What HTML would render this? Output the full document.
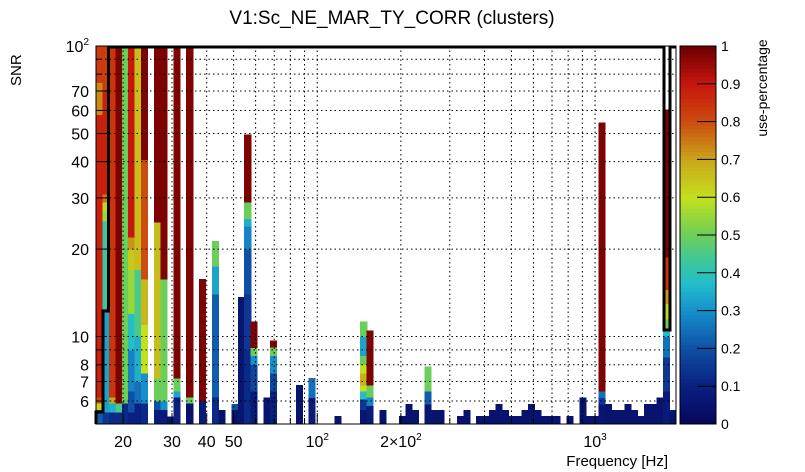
<!DOCTYPE html>
<html><head><meta charset="utf-8"><style>
body{margin:0;background:#fff;}
svg{display:block;font-family:"Liberation Sans",sans-serif;}
#cells rect,#cbar rect{shape-rendering:crispEdges;}
</style></head><body>
<svg id="chart" width="805" height="472">
<text x="392" y="24" text-anchor="middle" font-size="19">V1:Sc_NE_MAR_TY_CORR (clusters)</text>
<text transform="translate(21,86) rotate(-90)" font-size="15">SNR</text>
<text x="668" y="466" text-anchor="end" font-size="15">Frequency [Hz]</text>
<text transform="translate(767,88) rotate(-90)" text-anchor="middle" font-size="14">use-percentage</text>
<g id="cells"></g>
<g id="grid"></g>
<g id="axes"></g>
<g id="cbar"></g>
<path d="M96,424 V412 H103 V311 H108.5 V47 H664 V330 H670 V47 H676" fill="none" stroke="#000" stroke-width="3"/>
</svg>
<script>
const xTicks=[20,30,40,50,100,200,1000];
const xTickLabels=["20","30","40","50","10<tspan dy='-7' font-size='10'>2</tspan>","2×10<tspan dy='-7' font-size='10'>2</tspan>","10<tspan dy='-7' font-size='10'>3</tspan>"];
const yTicks=[6,7,8,10,20,30,40,50,60,70,100];
const yTickLabels=["6","7","8","10","20","30","40","50","60","70","10<tspan dy='-7' font-size='10'>2</tspan>"];
const cbTicks=[0,0.1,0.2,0.3,0.4,0.5,0.6,0.7,0.8,0.9,1];
const colBins=[0,1,2,3,4,5,6,7,9,10,11,12,14,16,18,19,21,22,23,24,26,27,31,33,37,41,42,44,47,48,49,51,52,53,56,57,59,60,61,62,63,64,65,66,67,68,69,70,71,73,75,76,77,78,79,80,81,82,83,84,85,86,87,88,89];
const colSegs=[
[[5,5.6,0.22],[5.6,5.9,0.62],[5.9,6.2,0.8],[6.2,58,0.88],[58,75,0.73],[75,100,0.83]],
[[5,5.5,0.15],[5.5,12.5,0.33],[12.5,25,0.42],[25,27,0.55],[27,29,0.62],[29,31,0.75],[31,70,0.88],[70,100,0.83]],
[[5,5.5,0.12],[5.5,5.9,0.35],[5.9,6.2,0.7],[6.2,100,0.84]],
[[5,5.5,0.12],[5.5,5.9,0.45],[5.9,100,0.98]],
[[5,5.9,0.12],[5.9,100,0.5]],
[[5,5.5,0.1],[5.5,6.5,0.2],[6.5,9,0.28],[9,12,0.38],[12,17,0.55],[17,20,0.64],[20,22,0.72],[22,100,0.9]],
[[5,5.9,0.1],[5.9,7,0.25],[7,10,0.35],[10,17,0.45],[17,100,0.66]],
[[5,5.9,0.12],[5.9,7.5,0.3],[7.5,11,0.6],[11,15.8,0.67],[15.8,40.7,0.8],[40.7,100,0.98]],
[[5,5.6,0.08],[5.6,6.0,0.2],[6.0,7.2,0.5],[7.2,24.8,0.66],[24.8,100,0.98]],
[[5,5.6,0.08],[5.6,6.0,0.3],[6.0,15.8,0.5],[15.8,100,0.98]],
[[5,5.3,0.05]],
[[5,6.2,0.1],[6.2,6.5,0.33],[6.5,7.2,0.5],[7.2,100,0.98]],
[[5,5.9,0.05],[5.9,6.2,0.5],[6.2,100,0.98]],
[[5,6.0,0.08],[6.0,15.8,0.98]],
[[5,6.2,0.12],[6.2,14,0.22],[14,17.5,0.33],[17.5,21.3,0.5]],
[[5,5.58,0.05]],
[[5,5.6,0.05],[5.6,5.86,0.2]],
[[5,13.7,0.06]],
[[5,9,0.12],[9,14,0.15],[14,20,0.2],[20,24,0.28],[24,25.5,0.35],[25.5,29,0.5],[29,49.6,0.98]],
[[5,6.5,0.08],[6.5,8,0.18],[8,8.6,0.3],[8.6,9.16,0.5],[9.16,11.25,0.98]],
[[5,6.17,0.05]],
[[5,6.5,0.1],[6.5,7.5,0.18],[7.5,8.6,0.3],[8.6,9.2,0.5],[9.2,9.7,0.98]],
[[5,6.8,0.05]],
[[5,6.17,0.08],[6.17,7.2,0.25]],
[[5,5.32,0.05]],
[[5,5.6,0.06],[5.6,6.1,0.15],[6.1,6.5,0.38],[6.5,6.8,0.6],[6.8,7.5,0.68],[7.5,8,0.6],[8,8.6,0.5],[8.6,10,0.33],[10,11.25,0.5]],
[[5,5.8,0.08],[5.8,6.2,0.28],[6.2,6.8,0.5],[6.8,10.5,0.98]],
[[5,5.58,0.05]],[[5,5.32,0.05]],[[5,5.86,0.05]],[[5,5.58,0.05]],
[[5,5.86,0.06],[5.86,6.5,0.22],[6.5,7.9,0.5]],
[[5,5.58,0.05]],[[5,5.58,0.05]],
[[5,5.32,0.05]],[[5,5.58,0.05]],[[5,5.32,0.05]],[[5,5.32,0.05]],[[5,5.58,0.05]],[[5,5.86,0.05]],[[5,5.58,0.05]],[[5,5.32,0.05]],[[5,5.32,0.05]],[[5,5.58,0.05]],[[5,5.86,0.05]],[[5,5.58,0.05]],[[5,5.32,0.05]],[[5,5.32,0.05]],[[5,5.32,0.05]],[[5,5.32,0.05]],[[5,6.17,0.05]],[[5,5.32,0.05]],[[5,5.32,0.05]],
[[5,5.86,0.06],[5.86,6.17,0.15],[6.17,6.5,0.25],[6.5,54.5,0.98]],
[[5,5.86,0.05]],[[5,5.58,0.05]],[[5,5.58,0.05]],[[5,5.86,0.05]],[[5,5.58,0.05]],[[5,5.32,0.05]],[[5,5.86,0.05]],[[5,5.86,0.05]],[[5,6.17,0.05]],
[[5,6.5,0.08],[6.5,8.5,0.15],[8.5,10,0.25],[10,10.6,0.37],[10.6,11.5,0.5],[11.5,13,0.62],[13,14.5,0.72],[14.5,18.8,0.85],[18.8,60.4,0.98]],
[[5,5.58,0.05]]
];
const NS="http://www.w3.org/2000/svg";
const X0=96,X1=676,Y0=46,Y1=424,NB=90,FMIN=15.98,FMAX=1956,SMIN=5,SMAX=100;
const xs=f=>X0+(Math.log10(f)-Math.log10(FMIN))/(Math.log10(FMAX)-Math.log10(FMIN))*(X1-X0);
const ys=s=>Y1-(Math.log10(s)-Math.log10(SMIN))/(Math.log10(SMAX)-Math.log10(SMIN))*(Y1-Y0);
const binX=i=>X0+i*(X1-X0)/NB;
const stops=[[0,[6,6,90]],[0.1,[10,31,128]],[0.2,[15,79,165]],[0.3,[22,144,204]],[0.37,[34,188,204]],[0.43,[60,199,156]],[0.5,[108,206,90]],[0.6,[196,224,28]],[0.7,[201,165,26]],[0.8,[204,75,14]],[0.9,[200,21,14]],[1,[107,0,0]]];
function col(v){for(let i=1;i<stops.length;i++){if(v<=stops[i][0]){const a=stops[i-1],b=stops[i],t=(v-a[0])/(b[0]-a[0]);return `rgb(${a[1].map((c,k)=>Math.round(c+(b[1][k]-c)*t)).join(',')})`;}}return 'rgb(107,0,0)';}
function mk(tag,attrs,parent){const e=document.createElementNS(NS,tag);for(const k in attrs)e.setAttribute(k,attrs[k]);parent.appendChild(e);return e;}
const cells=document.getElementById('cells');
colBins.forEach((b,ci)=>{colSegs[ci].forEach(s=>{
 const r=mk('rect',{x:binX(b),width:(X1-X0)/NB+0.6,y:ys(s[1]),height:ys(s[0])-ys(s[1])+0.5,fill:col(s[2])},cells);
 
 
});});
const grid=document.getElementById('grid');
const xg=[20,30,40,50,60,70,80,90,100,200,300,400,500,600,700,800,900,1000];
const yg=[6,7,8,9,10,20,30,40,50,60,70,80,90];
xg.forEach(f=>mk('line',{x1:xs(f),x2:xs(f),y1:Y0,y2:Y1,stroke:'#000','stroke-dasharray':'1.5,3'},grid));
yg.forEach(s=>mk('line',{x1:X0,x2:X1,y1:ys(s),y2:ys(s),stroke:'#000','stroke-dasharray':'1.5,3'},grid));
const axes=document.getElementById('axes');
mk('rect',{x:X0,y:Y0,width:X1-X0,height:Y1-Y0,fill:'none',stroke:'#000','stroke-width':1},axes);
xg.forEach(f=>mk('line',{x1:xs(f),x2:xs(f),y1:Y1,y2:Y1-(xTicks.includes(f)?11:6),stroke:'#000'},axes));
yg.concat([100]).forEach(s=>mk('line',{x1:X0,x2:X0+(yTicks.includes(s)?11:6),y1:ys(s),y2:ys(s),stroke:'#000'},axes));
xTicks.forEach((f,i)=>{const t=mk('text',{x:xs(f),y:447,'text-anchor':'middle','font-size':16},axes);t.innerHTML=xTickLabels[i];
 
 });
yTicks.forEach((s,i)=>{const t=mk('text',{x:89,y:ys(s)+6,'text-anchor':'end','font-size':16},axes);t.innerHTML=yTickLabels[i];
 
 });
const cb=document.getElementById('cbar');
const CX=680,CW=36;
for(let k=0;k<100;k++){const v0=k/100,v1=(k+1)/100;
 const r=mk('rect',{x:CX,width:CW,y:Y1-(v1)*(Y1-Y0),height:(Y1-Y0)/100+0.5,fill:col(v0+0.005)},cb);
 
 }
mk('rect',{x:CX,y:Y0,width:CW,height:Y1-Y0,fill:'none',stroke:'#000','stroke-width':0.8},cb);
cbTicks.forEach(v=>{const y=Y1-v*(Y1-Y0);
 mk('line',{x1:CX+CW-19,x2:CX+CW,y1:y,y2:y,stroke:'#000'},cb);
 const t=mk('text',{x:CX+CW+5,y:y+5,'font-size':14},cb);t.textContent=String(v);
 
 });
</script>
</body></html>
